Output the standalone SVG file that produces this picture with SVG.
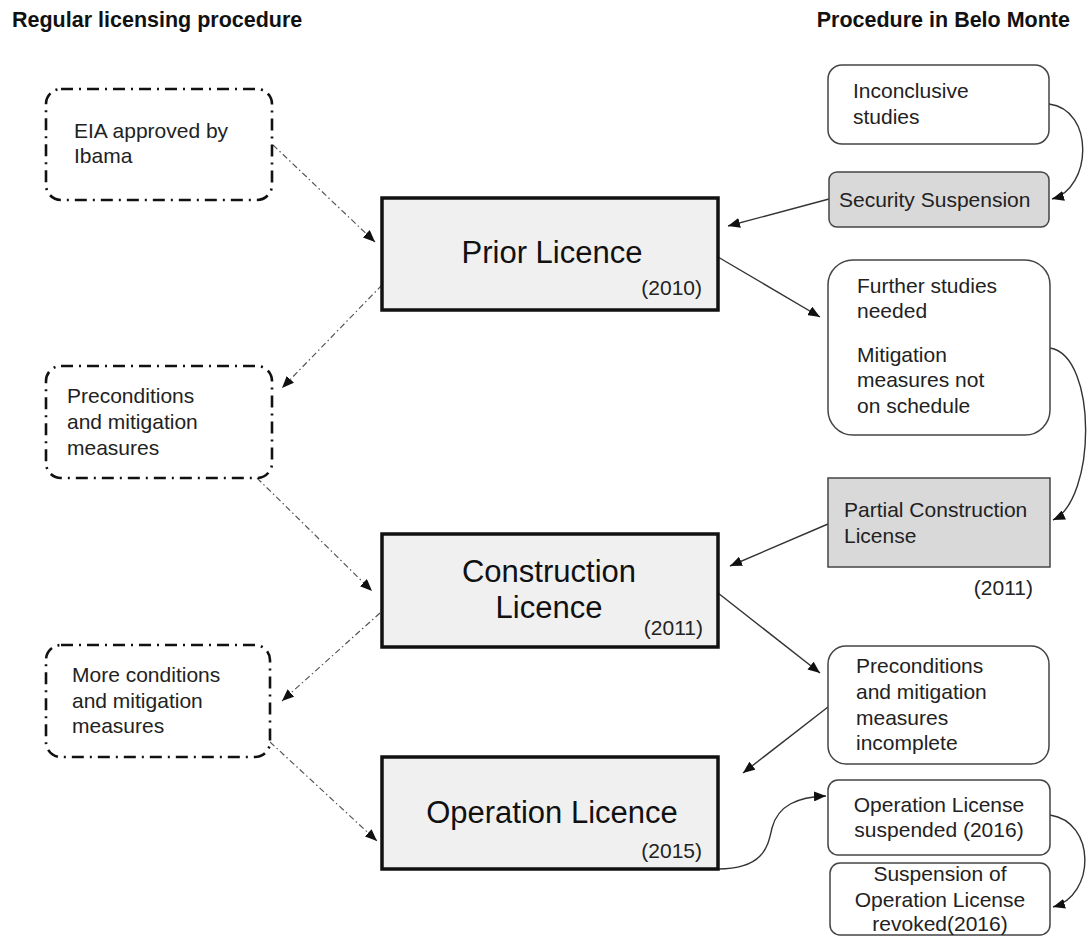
<svg xmlns="http://www.w3.org/2000/svg" width="1088" height="938" viewBox="0 0 1088 938">
<style>
text{font-family:"Liberation Sans",Arial,sans-serif;fill:#222;}
.title{font-size:21.5px;font-weight:bold;fill:#111;}
.t{font-size:21px;}
.big{font-size:31px;fill:#111;}
.dd{fill:#fff;stroke:#111;stroke-width:2.6;stroke-dasharray:12 6 2 6;}
.lic{fill:#f0f0f0;stroke:#111;stroke-width:3.5;}
.rb{fill:#fff;stroke:#444;stroke-width:1.5;}
.gb{fill:#d9d9d9;stroke:#444;stroke-width:1.5;}
.c{fill:none;stroke:#333;stroke-width:1.4;marker-end:url(#ah);}
.cd{fill:none;stroke:#555;stroke-width:1.2;stroke-dasharray:6 3 1.5 3;marker-end:url(#ah);}
</style>
<defs>
<marker id="ah" markerUnits="userSpaceOnUse" markerWidth="14" markerHeight="10" refX="12" refY="5" orient="auto">
<path d="M0,0 L12,5 L0,10 z" fill="#111"/>
</marker>
</defs>
<rect width="1088" height="938" fill="#fff"/>
<text class="title" x="12" y="27">Regular licensing procedure</text>
<text class="title" x="1070" y="27" text-anchor="end">Procedure in Belo Monte</text>

<g id="connectors">
<path class="cd" d="M273,145 L375,242"/>
<path class="cd" d="M382,285 L282,388"/>
<path class="cd" d="M257,478 L372,591"/>
<path class="cd" d="M380,613 L282,701"/>
<path class="cd" d="M270,742 L377,841"/>
<path class="c" d="M829,199 L728,226"/>
<path class="c" d="M718,257 L820,317"/>
<path class="c" d="M828,524 L730,566"/>
<path class="c" d="M718,593 L820,673"/>
<path class="c" d="M828,707 L743,773"/>
<path class="c" d="M1049,104 C1095,110 1092,188 1052,199"/>
<path class="c" d="M1050,348 C1098,356 1096,500 1053,520"/>
<path class="c" d="M1050,815 C1096,822 1096,895 1053,907"/>
<path class="c" d="M718,869 C765,869 768,845 772,828 C778,805 798,797 826,796"/>
</g>

<g id="eia">
<rect class="dd" x="46" y="89" width="226" height="111" rx="15"/>
<text class="t" x="74" y="138">EIA approved by</text>
<text class="t" x="74" y="163">Ibama</text>
</g>
<g id="pre-left">
<rect class="dd" x="46" y="366" width="226" height="112" rx="15"/>
<text class="t" x="67" y="403">Preconditions</text>
<text class="t" x="67" y="429">and mitigation</text>
<text class="t" x="67" y="455">measures</text>
</g>
<g id="more-left">
<rect class="dd" x="46" y="645" width="224" height="112" rx="15"/>
<text class="t" x="72" y="682">More conditions</text>
<text class="t" x="72" y="708">and mitigation</text>
<text class="t" x="72" y="733">measures</text>
</g>

<g id="prior">
<rect class="lic" x="382" y="198" width="336" height="112"/>
<text class="big" x="552" y="263" text-anchor="middle">Prior Licence</text>
<text class="t" x="702" y="295" text-anchor="end">(2010)</text>
</g>
<g id="construction">
<rect class="lic" x="382" y="534" width="336" height="113"/>
<text class="big" x="549" y="582" text-anchor="middle">Construction</text>
<text class="big" x="549" y="618" text-anchor="middle">Licence</text>
<text class="t" x="703" y="635" text-anchor="end">(2011)</text>
</g>
<g id="operation">
<rect class="lic" x="382" y="757" width="336" height="112"/>
<text class="big" x="552" y="823" text-anchor="middle">Operation Licence</text>
<text class="t" x="702" y="858" text-anchor="end">(2015)</text>
</g>

<g id="inconclusive">
<rect class="rb" x="828" y="65" width="221" height="79" rx="14"/>
<text class="t" x="853" y="98">Inconclusive</text>
<text class="t" x="853" y="124">studies</text>
</g>
<g id="security">
<rect class="gb" x="829" y="172" width="220" height="55" rx="8"/>
<text class="t" x="839" y="207">Security Suspension</text>
</g>
<g id="further">
<rect class="rb" x="828" y="260" width="222" height="175" rx="25"/>
<text class="t" x="857" y="293">Further studies</text>
<text class="t" x="857" y="318">needed</text>
<text class="t" x="857" y="362">Mitigation</text>
<text class="t" x="857" y="387">measures not</text>
<text class="t" x="857" y="413">on schedule</text>
</g>
<g id="partial">
<rect class="gb" x="828" y="478" width="222" height="89"/>
<text class="t" x="844" y="517">Partial Construction</text>
<text class="t" x="844" y="543">License</text>
<text class="t" x="1033" y="595" text-anchor="end">(2011)</text>
</g>
<g id="pre-right">
<rect class="rb" x="828" y="646" width="221" height="118" rx="18"/>
<text class="t" x="856" y="673">Preconditions</text>
<text class="t" x="856" y="699">and mitigation</text>
<text class="t" x="856" y="725">measures</text>
<text class="t" x="856" y="750">incomplete</text>
</g>
<g id="suspended">
<rect class="rb" x="828" y="780" width="222" height="75" rx="10"/>
<text class="t" x="939" y="812" text-anchor="middle">Operation License</text>
<text class="t" x="939" y="837" text-anchor="middle">suspended (2016)</text>
</g>
<g id="revoked">
<rect class="rb" x="830" y="863" width="220" height="72" rx="10"/>
<text class="t" x="940" y="881" text-anchor="middle">Suspension of</text>
<text class="t" x="940" y="907" text-anchor="middle">Operation License</text>
<text class="t" x="940" y="931" text-anchor="middle">revoked(2016)</text>
</g>
</svg>
